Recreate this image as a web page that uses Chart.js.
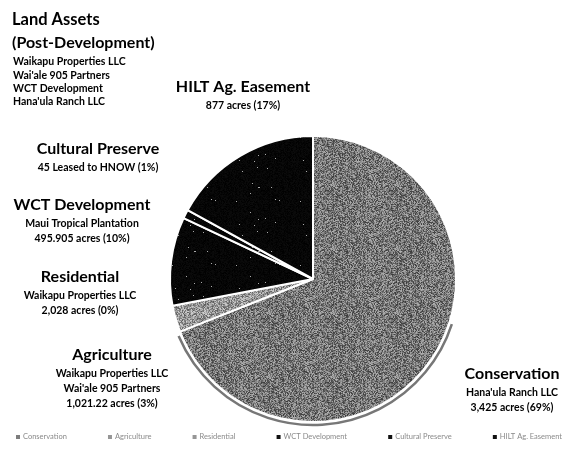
<!DOCTYPE html>
<html>
<head>
<meta charset="utf-8">
<script src="https://cdn.jsdelivr.net/npm/chart.js@4/dist/chart.umd.min.js"></script>
<style>
  html, body { margin: 0; padding: 0; background: #fff; }
  #wrap { width: 568px; height: 454px; position: relative; }
</style>
</head>
<body>
<div id="wrap"><canvas id="c" width="568" height="454"></canvas></div>
<script>
// Land use shares after development
const categories = ['Conservation', 'Agriculture', 'Residential', 'WCT Development', 'Cultural Preserve', 'HILT Ag. Easement'];
const sharePct = [69, 3, 0, 10, 1, 17];
const owners = [
  ["Hana'ula Ranch LLC"],
  ['Waikapu Properties LLC', "Wai'ale 905 Partners"],
  ['Waikapu Properties LLC'],
  ['Maui Tropical Plantation'],
  [],
  []
];
const areaText = ['3,425 acres', '1,021.22 acres', '2,028 acres', '495.905 acres', '45 Leased to HNOW', '877 acres'];
const titleLines = ['Land Assets', '(Post-Development)'];
const titleOwners = ['Waikapu Properties LLC', "Wai'ale 905 Partners", 'WCT Development', "Hana'ula Ranch LLC"];

// Grainy fills for the slices
function grain(base, spread, speckLevel) {
  const c = document.createElement('canvas');
  c.width = 64; c.height = 64;
  const x = c.getContext('2d');
  const img = x.createImageData(64, 64);
  for (let i = 0; i < 64 * 64; i++) {
    const h = Math.sin(i * 12.9898 + 78.233) * 43758.5453;
    const f = h - Math.floor(h);
    let v = base + (f - 0.5) * 2 * spread;
    if (speckLevel && f > speckLevel) v = 170;
    v = Math.max(0, Math.min(255, v));
    img.data[i * 4] = v; img.data[i * 4 + 1] = v; img.data[i * 4 + 2] = v; img.data[i * 4 + 3] = 255;
  }
  x.putImageData(img, 0, 0);
  return x.createPattern(c, 'repeat');
}
const ctx = document.getElementById('c').getContext('2d');
const fills = [
  grain(118, 60, 0),
  grain(150, 60, 0),
  grain(150, 60, 0),
  grain(6, 6, 0.996),
  grain(6, 6, 0.996),
  grain(6, 6, 0.996)
];
const legendFills = ['#7d7d7d', '#969696', '#969696', '#111', '#111', '#111'];

// Slice captions
const FONT = 'Lato, "Open Sans", sans-serif';
const captions = [
  { i: 0, x: 512, y: 374 },
  { i: 1, x: 112, y: 355 },
  { i: 2, x: 80, y: 277 },
  { i: 3, x: 82, y: 205 },
  { i: 4, x: 98, y: 149 },
  { i: 5, x: 243, y: 87 }
];

const textPlugin = {
  id: 'captions',
  afterDraw(chart) {
    const g = chart.ctx;
    g.save();
    g.fillStyle = '#000';
    g.textBaseline = 'middle';
    // heading block
    g.textAlign = 'left';
    g.font = 'bold 16.5px ' + FONT;
    g.fillText(titleLines[0], 12, 20);
    g.font = 'bold 16px ' + FONT;
    g.fillText(titleLines[1], 12, 43);
    g.font = 'bold 10.5px ' + FONT;
    titleOwners.forEach((t, k) => g.fillText(t, 13, 62 + k * 13.3));
    // per-slice captions
    captions.forEach(c => {
      g.textAlign = 'center';
      g.font = 'bold 16px ' + FONT;
      g.fillText(categories[c.i], c.x, c.y);
      g.font = 'bold 10.5px ' + FONT;
      const lines = owners[c.i].concat([areaText[c.i] + ' (' + sharePct[c.i] + '%)']);
      lines.forEach((t, k) => g.fillText(t, c.x, c.y + 19 + k * 15));
    });
    // legend row
    g.font = '7.5px ' + FONT;
    g.textAlign = 'left';
    const box = 4, gapBox = 3;
    const widths = categories.map(t => box + gapBox + g.measureText(t).width);
    const left = 16, right = 562;
    const spare = (right - left - widths.reduce((a, b) => a + b, 0)) / (categories.length - 1);
    let x = left;
    const ly = 437;
    categories.forEach((t, k) => {
      g.fillStyle = legendFills[k];
      g.fillRect(x, ly - box / 2, box, box);
      g.fillStyle = '#8a8a8a';
      g.fillText(t, x + box + gapBox, ly);
      x += widths[k] + spare;
    });
    g.restore();
  }
};

// Shaded rim along the lower edge of the pie
const rimPlugin = {
  id: 'rim',
  beforeDatasetsDraw(chart) {
    const arc = chart.getDatasetMeta(0).data[0];
    if (!arc) return;
    const g = chart.ctx;
    const r = arc.outerRadius;
    g.save();
    g.strokeStyle = '#777';
    g.lineWidth = 2.5;
    g.beginPath();
    g.arc(arc.x, arc.y, r + 3, (18 * Math.PI) / 180, (157 * Math.PI) / 180);
    g.stroke();
    g.restore();
  }
};

new Chart(ctx, {
  type: 'pie',
  data: {
    labels: categories,
    datasets: [{
      data: sharePct,
      backgroundColor: fills,
      borderColor: '#ffffff',
      borderWidth: 2
    }]
  },
  options: {
    responsive: false,
    animation: false,
    layout: { padding: { left: 166, right: 108, top: 135, bottom: 31 } },
    plugins: {
      legend: { display: false },
      tooltip: { enabled: false }
    }
  },
  plugins: [rimPlugin, textPlugin]
});
</script>
</body>
</html>
